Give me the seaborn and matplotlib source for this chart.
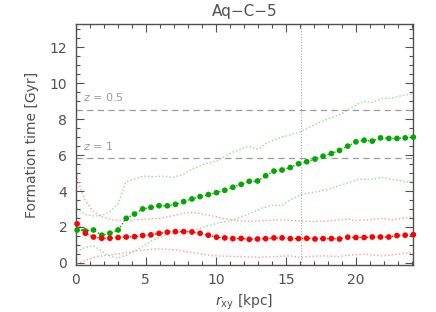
import numpy as np
import pandas as pd
import matplotlib
matplotlib.use("Agg")
import matplotlib.pyplot as plt
import seaborn as sns
from matplotlib.ticker import MultipleLocator

sns.set_style("white")
plt.rcParams['font.family'] = ['DejaVu Sans']
plt.rcParams['mathtext.fontset'] = 'dejavusans'

# radial bins (kpc)
r = [0.10, 0.69, 1.27, 1.86, 2.44, 3.03, 3.61, 4.20, 4.78, 5.37, 5.95, 6.54, 7.12, 7.71,
     8.30, 8.88, 9.47, 10.05, 10.64, 11.22, 11.81, 12.39, 12.98, 13.56, 14.15, 14.73,
     15.32, 15.91, 16.49, 17.08, 17.66, 18.25, 18.83, 19.42, 20.00, 20.59, 21.17, 21.76,
     22.35, 22.93, 23.52, 24.10]
green_med = [1.83, 1.78, 1.83, 1.54, 1.65, 1.83, 2.48, 2.72, 3.00, 3.09, 3.18, 3.18, 3.26,
             3.41, 3.56, 3.69, 3.80, 3.91, 4.04, 4.21, 4.37, 4.54, 4.56, 4.85, 5.11, 5.17,
             5.31, 5.52, 5.63, 5.78, 5.94, 6.09, 6.26, 6.50, 6.74, 6.83, 6.78, 6.96, 6.93,
             6.93, 6.96, 7.00]
red_med = [2.17, 1.65, 1.44, 1.37, 1.37, 1.41, 1.44, 1.46, 1.52, 1.56, 1.64, 1.71, 1.74,
           1.74, 1.72, 1.65, 1.54, 1.43, 1.39, 1.35, 1.36, 1.31, 1.33, 1.35, 1.39, 1.39,
           1.35, 1.35, 1.37, 1.33, 1.35, 1.35, 1.33, 1.43, 1.41, 1.41, 1.44, 1.44, 1.44,
           1.52, 1.54, 1.57]

g_up_r = [0.07, 0.66, 1.26, 1.86, 2.45, 3.04, 3.59, 4.11, 4.83, 5.54, 6.26, 6.97, 7.69, 8.40,
          9.36, 10.07, 11.26, 12.33, 13.04, 13.64, 14.59, 15.19, 16.02, 17.21, 18.40, 19.00,
          19.83, 20.54, 21.14, 21.86, 22.57, 23.40, 24.11]
g_up = [3.04, 2.70, 2.61, 2.63, 2.85, 3.32, 4.52, 4.65, 4.83, 4.80, 4.83, 4.76, 4.94, 5.26,
        5.54, 5.68, 6.18, 6.50, 6.33, 6.68, 6.98, 7.11, 7.29, 7.76, 8.13, 8.31, 8.72, 9.00,
        8.93, 9.15, 9.18, 9.33, 9.41]
g_lo_r = [0.07, 0.66, 1.26, 1.76, 2.24, 2.95, 3.66, 4.59, 5.54, 6.50, 7.69, 8.88, 10.07, 11.26,
          12.45, 13.30, 14.10, 14.70, 15.30, 16.15, 17.20, 18.16, 18.80, 19.47, 20.19, 21.14,
          21.86, 22.57, 23.52, 24.11]
g_lo = [0.63, 0.85, 0.96, 0.72, 0.44, 0.26, 0.44, 0.82, 1.28, 1.56, 1.74, 1.93, 2.20, 2.39,
        2.75, 3.05, 3.22, 3.18, 3.50, 3.82, 3.96, 4.12, 4.30, 4.46, 4.65, 4.65, 4.76, 4.65,
        4.52, 4.52]
r_up_r = [0.07, 0.31, 0.66, 1.26, 1.86, 2.69, 3.40, 4.11, 5.07, 6.02, 6.97, 7.93, 8.40, 9.36,
          10.07, 10.43, 11.61, 12.45, 13.40, 14.59, 15.78, 16.97, 18.04, 18.76, 19.47, 19.95,
          20.90, 21.86, 22.57, 23.28, 24.11]
r_up = [4.89, 4.24, 3.50, 2.85, 2.57, 2.39, 2.33, 2.39, 2.43, 2.48, 2.63, 2.80, 2.81, 2.67,
        2.57, 2.48, 2.35, 2.30, 2.35, 2.39, 2.35, 2.30, 2.33, 2.39, 2.44, 2.35, 2.39, 2.48,
        2.39, 2.48, 2.57]
r_lo_r = [0.07, 0.79, 1.50, 2.45, 3.64, 4.83, 6.02, 7.21, 8.40, 9.83, 11.85, 12.93, 14.12,
          15.31, 16.02, 16.50, 17.70, 18.76, 19.71, 20.66, 21.86, 22.57, 23.52, 24.11]
r_lo = [-0.05, 0.17, 0.35, 0.44, 0.57, 0.72, 0.78, 0.72, 0.57, 0.39, 0.35, 0.31, 0.35, 0.39,
        0.30, 0.35, 0.39, 0.35, 0.44, 0.48, 0.39, 0.44, 0.54, 0.54]

z_levels = [8.54, 5.82]
z_labels = ["0.5", "1"]
r_sun = 16.1

GREEN = "#00A800"
RED = "#FF0000"
LGREEN = "#8FDC8F"
LRED = "#FF9A9A"
GRAY = "#999999"
DARK = "#505050"

fig = plt.figure(figsize=(4.36, 3.12), dpi=100)
ax = fig.add_axes([0.1736, 0.1506, 0.948 - 0.1736, 0.923 - 0.1506])

for zl in z_levels:
    ax.axhline(zl, color=GRAY, lw=0.9, dashes=(5, 3.5))
ax.axvline(r_sun, color="#aaaaaa", lw=0.8, ls=(0, (1, 1.5)))

for xs, ys, c in [(g_up_r, g_up, LGREEN), (g_lo_r, g_lo, LGREEN),
                  (r_up_r, r_up, LRED), (r_lo_r, r_lo, LRED)]:
    sns.lineplot(x=xs, y=ys, ax=ax, color=c, lw=1.0, ls=(0, (1, 1.6)),
                 sort=False, estimator=None)

for ys, c in [(green_med, GREEN), (red_med, RED)]:
    sns.lineplot(x=r, y=ys, ax=ax, color=c, lw=1.0, ls=(0, (1, 1.6)),
                 sort=False, estimator=None)
    sns.scatterplot(x=r, y=ys, ax=ax, color=c, s=17, edgecolor="none",
                    clip_on=False, zorder=5)

for zl, lab in zip(z_levels, z_labels):
    ax.text(0.5, zl + 0.35, r"$z$ = " + lab, color=GRAY, fontsize=8, ha="left",
            va="bottom")

ax.set_xlim(0, 24.1)
ax.set_ylim(-0.12, 13.3)
ax.xaxis.set_major_locator(MultipleLocator(5))
ax.xaxis.set_minor_locator(MultipleLocator(1))
ax.yaxis.set_major_locator(MultipleLocator(2))
ax.yaxis.set_minor_locator(MultipleLocator(0.5))
ax.tick_params(which="both", direction="in", top=True, right=True, bottom=True, left=True,
               color=DARK, labelcolor=DARK, labelsize=10, width=0.8)
ax.tick_params(which="major", length=6, pad=6)
ax.tick_params(which="minor", length=3)
for s in ax.spines.values():
    s.set_color(DARK)
    s.set_linewidth(1.0)

ax.set_xlabel(r"$r_{\mathrm{xy}}$ [kpc]", color=DARK, fontsize=10, labelpad=4)
ax.set_ylabel("Formation time [Gyr]", color=DARK, fontsize=10, labelpad=8)
ax.set_title("Aq\u2212C\u22125", color=DARK, fontsize=11, pad=6)

fig.savefig("out.png", dpi=100)
